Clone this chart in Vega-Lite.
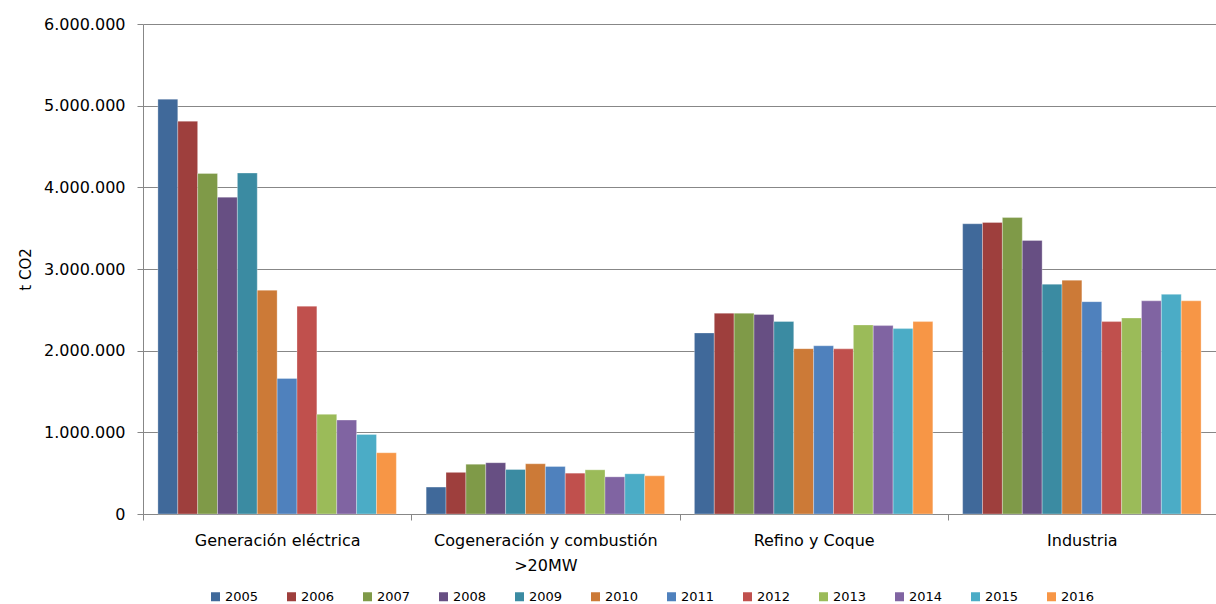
{
  "$schema": "https://vega.github.io/schema/vega-lite/v6.json",
  "width": 1073,
  "height": 490,
  "autosize": {"type": "none"},
  "padding": {"left": 143, "top": 24, "right": 0, "bottom": 90},
  "background": "white",
  "data": {
    "values": [
      {"sector": "Generación eléctrica", "year": "2005", "value": 5080000},
      {"sector": "Generación eléctrica", "year": "2006", "value": 4810000},
      {"sector": "Generación eléctrica", "year": "2007", "value": 4170000},
      {"sector": "Generación eléctrica", "year": "2008", "value": 3880000},
      {"sector": "Generación eléctrica", "year": "2009", "value": 4175000},
      {"sector": "Generación eléctrica", "year": "2010", "value": 2740000},
      {"sector": "Generación eléctrica", "year": "2011", "value": 1660000},
      {"sector": "Generación eléctrica", "year": "2012", "value": 2545000},
      {"sector": "Generación eléctrica", "year": "2013", "value": 1220000},
      {"sector": "Generación eléctrica", "year": "2014", "value": 1150000},
      {"sector": "Generación eléctrica", "year": "2015", "value": 975000},
      {"sector": "Generación eléctrica", "year": "2016", "value": 750000},
      {"sector": "Cogeneración y combustión >20MW", "year": "2005", "value": 330000},
      {"sector": "Cogeneración y combustión >20MW", "year": "2006", "value": 510000},
      {"sector": "Cogeneración y combustión >20MW", "year": "2007", "value": 610000},
      {"sector": "Cogeneración y combustión >20MW", "year": "2008", "value": 628000},
      {"sector": "Cogeneración y combustión >20MW", "year": "2009", "value": 545000},
      {"sector": "Cogeneración y combustión >20MW", "year": "2010", "value": 615000},
      {"sector": "Cogeneración y combustión >20MW", "year": "2011", "value": 582000},
      {"sector": "Cogeneración y combustión >20MW", "year": "2012", "value": 500000},
      {"sector": "Cogeneración y combustión >20MW", "year": "2013", "value": 541000},
      {"sector": "Cogeneración y combustión >20MW", "year": "2014", "value": 455000},
      {"sector": "Cogeneración y combustión >20MW", "year": "2015", "value": 492000},
      {"sector": "Cogeneración y combustión >20MW", "year": "2016", "value": 467000},
      {"sector": "Refino y Coque", "year": "2005", "value": 2217000},
      {"sector": "Refino y Coque", "year": "2006", "value": 2459000},
      {"sector": "Refino y Coque", "year": "2007", "value": 2459000},
      {"sector": "Refino y Coque", "year": "2008", "value": 2443000},
      {"sector": "Refino y Coque", "year": "2009", "value": 2357000},
      {"sector": "Refino y Coque", "year": "2010", "value": 2025000},
      {"sector": "Refino y Coque", "year": "2011", "value": 2060000},
      {"sector": "Refino y Coque", "year": "2012", "value": 2022000},
      {"sector": "Refino y Coque", "year": "2013", "value": 2315000},
      {"sector": "Refino y Coque", "year": "2014", "value": 2307000},
      {"sector": "Refino y Coque", "year": "2015", "value": 2270000},
      {"sector": "Refino y Coque", "year": "2016", "value": 2356000},
      {"sector": "Industria", "year": "2005", "value": 3554000},
      {"sector": "Industria", "year": "2006", "value": 3570000},
      {"sector": "Industria", "year": "2007", "value": 3630000},
      {"sector": "Industria", "year": "2008", "value": 3350000},
      {"sector": "Industria", "year": "2009", "value": 2814000},
      {"sector": "Industria", "year": "2010", "value": 2863000},
      {"sector": "Industria", "year": "2011", "value": 2600000},
      {"sector": "Industria", "year": "2012", "value": 2356000},
      {"sector": "Industria", "year": "2013", "value": 2400000},
      {"sector": "Industria", "year": "2014", "value": 2610000},
      {"sector": "Industria", "year": "2015", "value": 2690000},
      {"sector": "Industria", "year": "2016", "value": 2610000}
    ]
  },
  "mark": {"type": "bar", "stroke": "white", "strokeWidth": 0.6, "strokeOpacity": 0.5},
  "encoding": {
    "x": {
      "field": "sector",
      "type": "nominal",
      "sort": ["Generación eléctrica", "Cogeneración y combustión >20MW", "Refino y Coque", "Industria"],
      "scale": {"paddingInner": 0, "paddingOuter": 0},
      "axis": {
        "title": null,
        "labelAngle": 0,
        "tickBand": "extent",
        "tickSize": 6,
        "tickColor": "#878787",
        "domainColor": "#878787",
        "labelFont": "DejaVu Sans",
        "labelFontSize": 16,
        "labelColor": "#000000",
        "labelPadding": 12,
        "labelLineHeight": 25,
        "labelBaseline": "top",
        "labelLimit": 400,
        "labelExpr": "datum.label == 'Cogeneración y combustión >20MW' ? ['Cogeneración y combustión', '>20MW'] : datum.label"
      }
    },
    "xOffset": {
      "field": "year",
      "type": "nominal",
      "scale": {"paddingInner": 0, "paddingOuter": 0.75}
    },
    "y": {
      "field": "value",
      "type": "quantitative",
      "scale": {"domain": [0, 6000000], "nice": false},
      "axis": {
        "values": [0, 1000000, 2000000, 3000000, 4000000, 5000000, 6000000],
        "title": "t CO2",
        "titleFont": "DejaVu Sans",
        "titleFontSize": 15,
        "titleFontWeight": "normal",
        "titleColor": "#000000",
        "titlePadding": 10,
        "labelFont": "DejaVu Sans",
        "labelFontSize": 16,
        "labelColor": "#000000",
        "labelPadding": 12,
        "tickSize": 6,
        "tickColor": "#878787",
        "domainColor": "#878787",
        "grid": true,
        "gridColor": "#878787",
        "gridWidth": 1,
        "labelExpr": "replace(format(datum.value, ',d'), regexp(',', 'g'), '.')"
      }
    },
    "color": {
      "field": "year",
      "type": "nominal",
      "scale": {
        "domain": ["2005", "2006", "2007", "2008", "2009", "2010", "2011", "2012", "2013", "2014", "2015", "2016"],
        "range": ["#40699A", "#9E3F3D", "#7F9A48", "#674F83", "#3B8BA2", "#CC7A37", "#4F81BD", "#C0504D", "#9BBB59", "#8064A2", "#4BACC6", "#F79646"]
      },
      "legend": {
        "title": null,
        "orient": "none",
        "direction": "horizontal",
        "columns": 12,
        "legendX": 66,
        "legendY": 566,
        "symbolType": "square",
        "symbolSize": 81,
        "symbolStrokeWidth": 0,
        "labelFont": "DejaVu Sans",
        "labelFontSize": 13,
        "labelColor": "#000000",
        "labelOffset": 3,
        "columnPadding": 26
      }
    }
  },
  "config": {
    "view": {"stroke": null},
    "axis": {"domainWidth": 1, "tickWidth": 1}
  }
}
